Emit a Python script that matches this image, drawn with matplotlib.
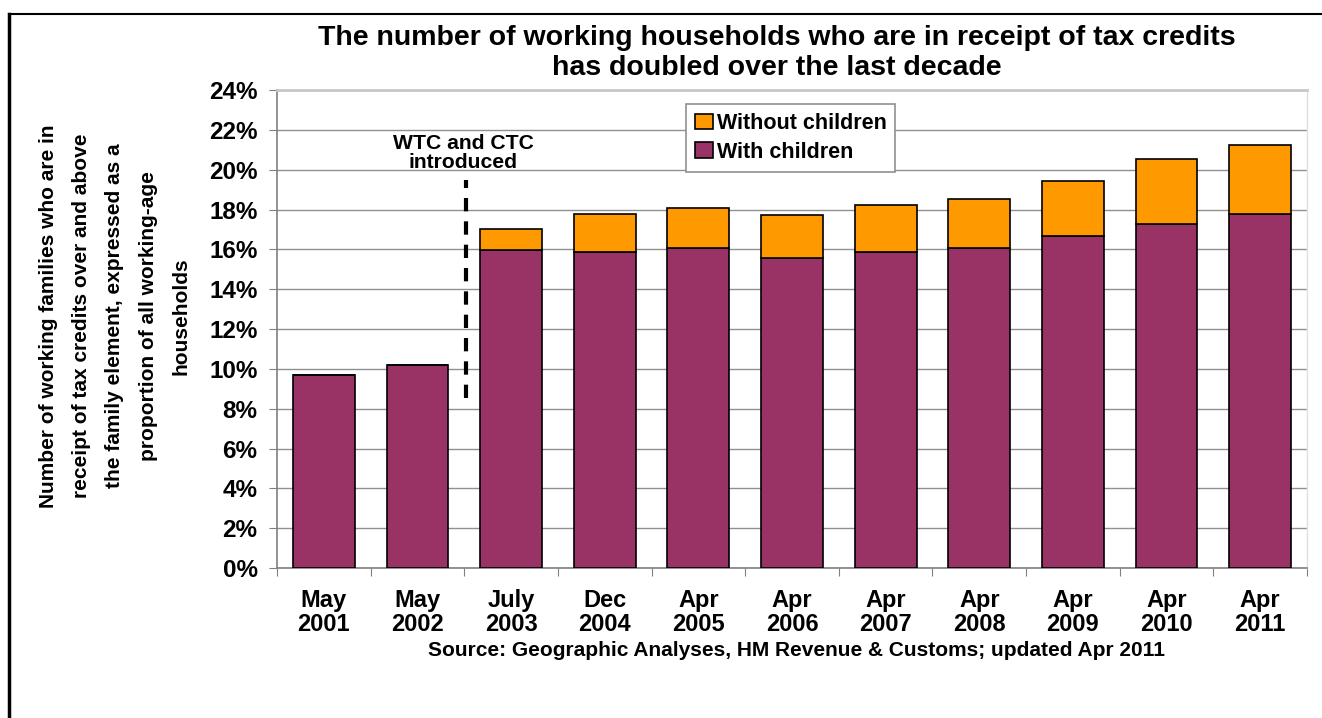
import matplotlib
matplotlib.use("Agg")
import matplotlib.pyplot as plt
import numpy as np
from matplotlib.lines import Line2D
from matplotlib.patches import Patch
from matplotlib.ticker import FixedLocator, FuncFormatter

categories = ["May\n2001", "May\n2002", "July\n2003", "Dec\n2004", "Apr\n2005", "Apr\n2006",
              "Apr\n2007", "Apr\n2008", "Apr\n2009", "Apr\n2010", "Apr\n2011"]
with_children = [9.67, 10.18, 15.97, 15.87, 16.07, 15.56, 15.88, 16.07, 16.65, 17.26, 17.77]
without_children = [0, 0, 1.03, 1.91, 2.01, 2.16, 2.34, 2.47, 2.79, 3.29, 3.45]
y_ticks = [0, 2, 4, 6, 8, 10, 12, 14, 16, 18, 20, 22, 24]

title = "The number of working households who are in receipt of tax credits\nhas doubled over the last decade"
ylabel = ("Number of working families who are in\nreceipt of tax credits over and above\n"
          "the family element, expressed as a\nproportion of all working-age\nhouseholds")
source = "Source: Geographic Analyses, HM Revenue & Customs; updated Apr 2011"
annot = "WTC and CTC\nintroduced"

PURPLE = "#993366"
ORANGE = "#FF9900"
FONT = ["Liberation Sans", "DejaVu Sans"]

plt.rcParams['font.family'] = FONT
W, H = 1322, 718
fig = plt.figure(figsize=(W / 100, H / 100), dpi=100)
ax = fig.add_axes([277 / W, 1 - 568 / H, (1307 - 277) / W, (568 - 90) / H])

x = np.arange(len(categories))
ax.bar(x, with_children, width=0.66, color=PURPLE, edgecolor="black", linewidth=1.2, zorder=3,
       label="With children")
ax.bar(x, without_children, bottom=with_children, width=0.66, color=ORANGE, edgecolor="black",
       linewidth=1.2, zorder=3, label="Without children")

ax.set_xlim(-0.5, len(categories) - 0.5)
ax.set_ylim(0, 24)
ax.set_yticks(y_ticks)
ax.yaxis.set_major_formatter(FuncFormatter(lambda v, p: f"{int(v)}%"))
ax.yaxis.grid(True, color="#909090", linewidth=1.0, zorder=0)
ax.set_axisbelow(True)

# x ticks: marks at boundaries, labels at centres
ax.xaxis.set_major_locator(FixedLocator(np.arange(-0.5, len(categories), 1.0)))
ax.xaxis.set_major_formatter(FuncFormatter(lambda v, p: ""))
ax.xaxis.set_minor_locator(FixedLocator(x))
ax.set_xticklabels(categories, minor=True)
ax.tick_params(axis="x", which="major", length=6, color="#808080", direction="out")
ax.tick_params(axis="x", which="minor", length=0, pad=15, labelsize=17)
ax.tick_params(axis="y", length=6, color="#808080", direction="out", pad=8, labelsize=17.5)
for lab in ax.get_xticklabels(minor=True):
    lab.set_fontweight("bold")
    lab.set_linespacing(1.05)
for lab in ax.get_yticklabels():
    lab.set_fontweight("bold")

for s in ["left", "bottom"]:
    ax.spines[s].set_color("#808080")
    ax.spines[s].set_linewidth(1.2)
ax.spines["top"].set_color("#c8c8c8")
ax.spines["top"].set_linewidth(2)
ax.spines["right"].set_color("#e0e0e0")
ax.spines["right"].set_linewidth(1)

# dashed marker line
ax.plot([1.52, 1.52], [8.55, 19.5], color="black", linewidth=3, linestyle=(0, (3.2, 2.4)), zorder=4)
ax.text(1.49, 20.85, annot, ha="center", va="center", fontsize=15.2, fontweight="bold",
        linespacing=1.0, zorder=5)

# legend
handles = [Patch(facecolor=ORANGE, edgecolor="black", linewidth=1.2, label="Without children"),
           Patch(facecolor=PURPLE, edgecolor="black", linewidth=1.2, label="With children")]
leg = fig.legend(handles=handles, loc="upper left", bbox_to_anchor=(686 / W, 1 - 104 / H),
                 prop={"weight": "bold", "size": 15.5, "family": FONT}, frameon=True, fancybox=False,
                 edgecolor="#909090", framealpha=1, handlelength=0.85, handleheight=0.75,
                 handletextpad=0.15, labelspacing=0.35, borderpad=0.42, borderaxespad=0)
leg.get_frame().set_linewidth(1.2)

fig.text(777 / W, 1 - 53 / H, title, ha="center", va="center", fontsize=20.5, fontweight="bold",
         linespacing=1.2)
fig.text(115 / W, 1 - 316 / H, ylabel, ha="center", va="center", rotation=90, fontsize=15,
         fontweight="bold", linespacing=1.95)
fig.text(796 / W, 1 - 650 / H, source, ha="center", va="center", fontsize=15, fontweight="bold")

# outer border (top and left)
fig.add_artist(Line2D([9 / W, 9 / W], [0, 1 - 14 / H], color="black", linewidth=2.5,
                      transform=fig.transFigure))
fig.add_artist(Line2D([9 / W, 1], [1 - 14 / H, 1 - 14 / H], color="black", linewidth=1.5,
                      transform=fig.transFigure))

fig.savefig("out.png", dpi=100, facecolor="white")
